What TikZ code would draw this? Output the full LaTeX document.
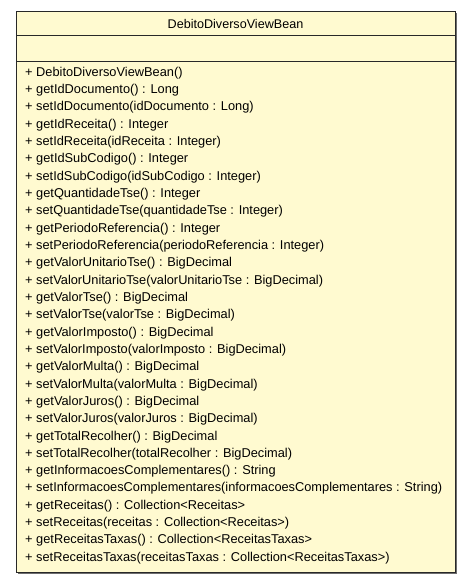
\documentclass[tikz,border=0pt]{standalone}
\usepackage{fontspec}
\setmainfont{Liberation Sans}
\definecolor{boxfill}{RGB}{255,250,208}
\definecolor{boxline}{RGB}{40,40,40}
\definecolor{shadowc}{RGB}{110,110,110}
\begin{document}
\begin{tikzpicture}[x=1pt,y=-1pt,
  member/.style={anchor=west,inner sep=0pt,font=\fontsize{12.8}{14}\selectfont},
  titlet/.style={anchor=center,inner sep=0pt,font=\fontsize{12.6}{14}\selectfont}]
\useasboundingbox (0,0) rectangle (472,583);
\fill[shadowc] (18,13.5) rectangle (457,574);
\filldraw[fill=boxfill,draw=boxline,line width=1pt] (16,11.5) rectangle (455,572.5);
\draw[boxline,line width=1pt] (16,36) -- (455,36);
\draw[boxline,line width=1pt] (16,61.5) -- (455,61.5);
\node[titlet] (title) at (235.5,23.5) {DebitoDiversoViewBean};
\foreach [count=\i] \t in {
+ DebitoDiversoViewBean(),
+ getIdDocumento() : Long,
+ setIdDocumento(idDocumento : Long),
+ getIdReceita() : Integer,
+ setIdReceita(idReceita : Integer),
+ getIdSubCodigo() : Integer,
+ setIdSubCodigo(idSubCodigo : Integer),
+ getQuantidadeTse() : Integer,
+ setQuantidadeTse(quantidadeTse : Integer),
+ getPeriodoReferencia() : Integer,
+ setPeriodoReferencia(periodoReferencia : Integer),
+ getValorUnitarioTse() : BigDecimal,
+ setValorUnitarioTse(valorUnitarioTse : BigDecimal),
+ getValorTse() : BigDecimal,
+ setValorTse(valorTse : BigDecimal),
+ getValorImposto() : BigDecimal,
+ setValorImposto(valorImposto : BigDecimal),
+ getValorMulta() : BigDecimal,
+ setValorMulta(valorMulta : BigDecimal),
+ getValorJuros() : BigDecimal,
+ setValorJuros(valorJuros : BigDecimal),
+ getTotalRecolher() : BigDecimal,
+ setTotalRecolher(totalRecolher : BigDecimal),
+ getInformacoesComplementares() : String,
+ setInformacoesComplementares(informacoesComplementares : String),
+ getReceitas() : Collection<Receitas>,
+ setReceitas(receitas : Collection<Receitas>),
+ getReceitasTaxas() : Collection<ReceitasTaxas>,
+ setReceitasTaxas(receitasTaxas : Collection<ReceitasTaxas>)}
{
  \node[member] (m\i) at (25,{73+(\i-1)*17.32}) {\t};
}
\end{tikzpicture}
\end{document}
